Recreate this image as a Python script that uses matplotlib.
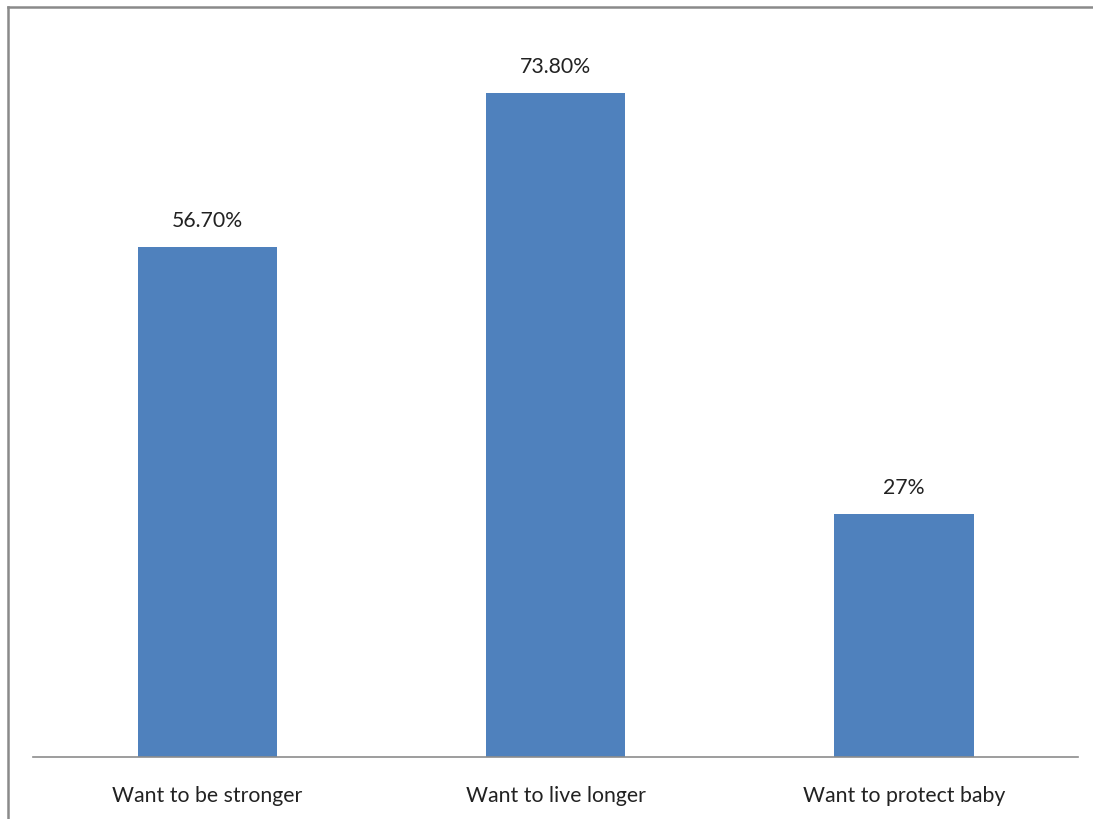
import matplotlib
matplotlib.use("Agg")
import matplotlib.pyplot as plt
from matplotlib.lines import Line2D

categories = ["Want to be stronger", "Want to live longer", "Want to protect baby"]
values = [56.7, 73.8, 27.0]
value_labels = ["56.70%", "73.80%", "27%"]

W, H = 1093, 820
fig = plt.figure(figsize=(W / 100, H / 100), dpi=100)
fig.patch.set_facecolor("white")

ax = fig.add_axes([33 / W, (H - 758) / H, (1078 - 33) / W, (758 - 38) / H])
x = range(len(categories))
bars = ax.bar(x, values, width=0.4, color="#4f81bd", zorder=2)
ax.set_xlim(-0.5, 2.5)
ax.set_ylim(0, 80)

for spine in ["top", "right", "left"]:
    ax.spines[spine].set_visible(False)
ax.spines["bottom"].set_color("#8c8c8c")
ax.spines["bottom"].set_linewidth(1.2)
ax.set_yticks([])
ax.set_xticks(list(x))
ax.set_xticklabels(categories, fontsize=15.3, family="Lato", color="#222222")
ax.tick_params(axis="x", length=0, pad=20)

for b, lab in zip(bars, value_labels):
    ax.annotate(lab, (b.get_x() + b.get_width() / 2, b.get_height()),
                xytext=(0, 12), textcoords="offset points", ha="center", va="bottom",
                fontsize=15.3, family="Lato", color="#222222")

# outer frame (top and left edges visible)
fig.add_artist(Line2D([8 / W, 1.0], [1 - 8 / H, 1 - 8 / H], transform=fig.transFigure,
                      color="#8a8a8a", linewidth=1.8))
fig.add_artist(Line2D([8 / W, 8 / W], [0, 1 - 8 / H], transform=fig.transFigure,
                      color="#8a8a8a", linewidth=1.8))

fig.savefig("out.png", dpi=100)
